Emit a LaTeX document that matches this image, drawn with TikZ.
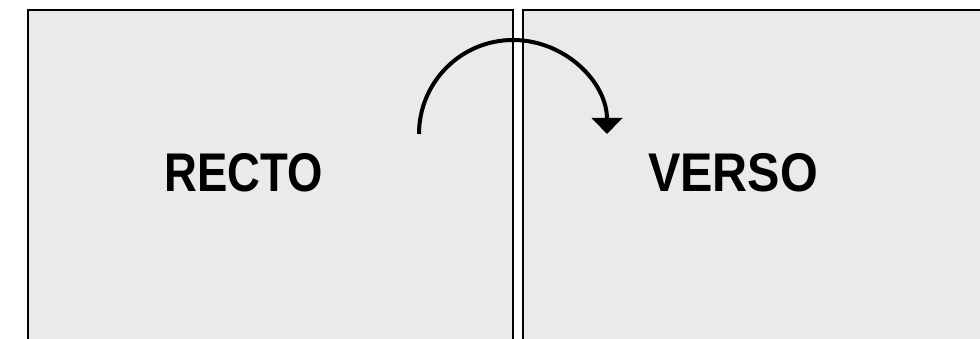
\documentclass[tikz,border=0pt]{standalone}
\usepackage{fontspec}
\setmainfont{Liberation Sans}
\usetikzlibrary{arrows.meta}
\definecolor{pagefill}{RGB}{234,234,234}
\tikzset{
  page/.style={draw=black, line width=2pt, fill=pagefill},
  word/.style={anchor=base, inner sep=0pt, font=\fontsize{54.5}{60}\selectfont\bfseries, text=black},
  flip/.style={line width=4pt, -{Triangle[width=30pt,length=16pt]}}
}
\begin{document}
\begin{tikzpicture}[x=1pt,y=-1pt]
\useasboundingbox (0,0) rectangle (980,339);
\clip (0,0) rectangle (980,339);
\fill[white] (0,0) rectangle (980,339);
\draw[page] (27.5,10.5) rectangle (512.5,360);
\draw[page] (522.5,10.5) rectangle (1000,360);
\node[word] (recto) at (243.5,192) {\scalebox{0.834}[1]{RECTO}};
\node[word] (verso) at (733,192) {\scalebox{0.89}[1]{VERSO}};
\coordinate (flipstart) at (419,134);
\draw[flip] (flipstart) arc[start angle=-180, end angle=0, radius=94];
\end{tikzpicture}
\end{document}
